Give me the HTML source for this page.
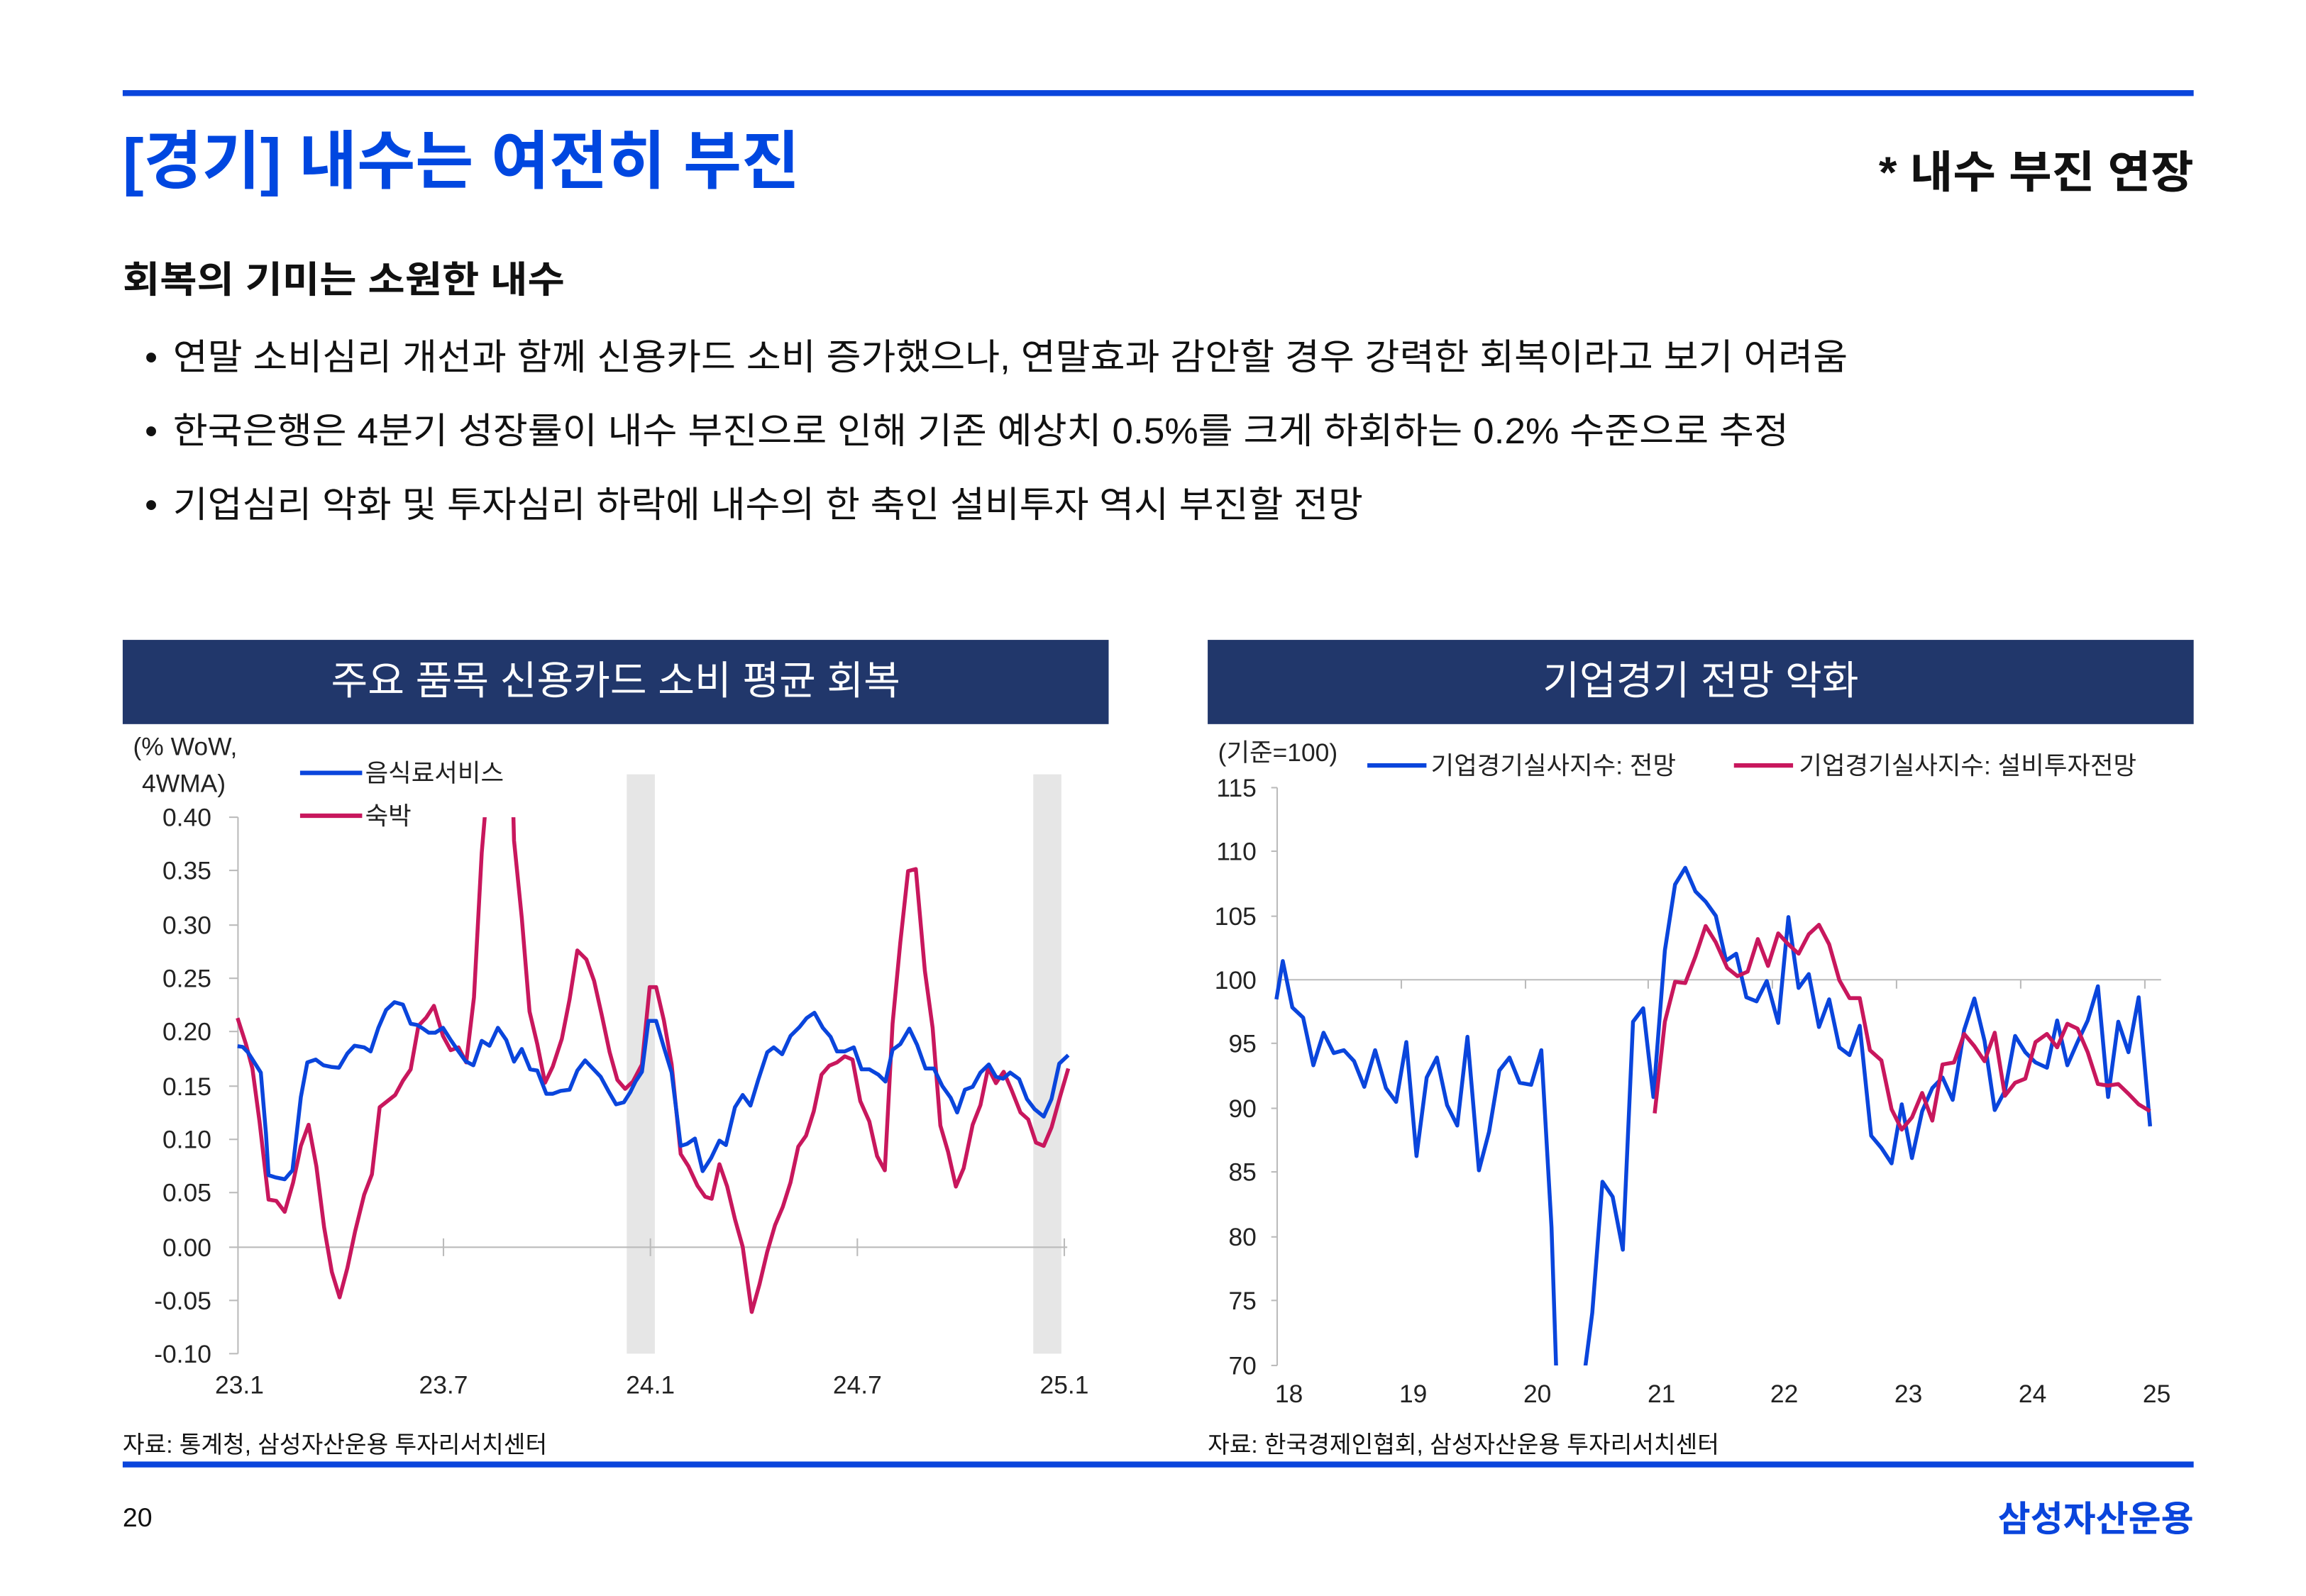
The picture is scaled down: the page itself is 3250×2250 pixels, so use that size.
<!DOCTYPE html>
<html><head><meta charset="utf-8"><style>
html,body{margin:0;padding:0;background:#fff;}
svg{display:block;}
text{font-family:"Liberation Sans","Noto Sans CJK KR",sans-serif;}
</style></head><body>
<svg width="3250" height="2250" viewBox="0 0 1560 1080" xmlns="http://www.w3.org/2000/svg">
<rect width="1560" height="1080" fill="#fff"/>
<rect x="83" y="61" width="1401" height="4" fill="#0a45dc"/>
<text x="83" y="124" font-size="43" font-weight="bold" fill="#0047e0" textLength="458" lengthAdjust="spacingAndGlyphs">[경기] 내수는 여전히 부진</text>
<text x="1271" y="127" font-size="30" font-weight="bold" fill="#111" textLength="213" lengthAdjust="spacingAndGlyphs">* 내수 부진 연장</text>
<text x="83" y="198" font-size="25" font-weight="bold" fill="#111" textLength="299" lengthAdjust="spacingAndGlyphs">회복의 기미는 소원한 내수</text>
<g font-size="24.5" fill="#111">
<text x="98" y="250">•</text><text x="117" y="250" textLength="1133" lengthAdjust="spacingAndGlyphs">연말 소비심리 개선과 함께 신용카드 소비 증가했으나, 연말효과 감안할 경우 강력한 회복이라고 보기 어려움</text>
<text x="98" y="300">•</text><text x="117" y="300" textLength="1093" lengthAdjust="spacingAndGlyphs">한국은행은 4분기 성장률이 내수 부진으로 인해 기존 예상치 0.5%를 크게 하회하는 0.2% 수준으로 추정</text>
<text x="98" y="350">•</text><text x="117" y="350" textLength="805" lengthAdjust="spacingAndGlyphs">기업심리 악화 및 투자심리 하락에 내수의 한 축인 설비투자 역시 부진할 전망</text>
</g>
<rect x="83" y="433" width="667" height="57" fill="#21376b"/>
<text x="416.5" y="470" font-size="27" fill="#fff" text-anchor="middle">주요 품목 신용카드 소비 평균 회복</text>
<rect x="817" y="433" width="667" height="57" fill="#21376b"/>
<text x="1150.5" y="470" font-size="27" fill="#fff" text-anchor="middle">기업경기 전망 악화</text>

<!-- LEFT CHART -->
<rect x="424" y="524" width="19" height="392" fill="#e6e6e6"/>
<rect x="699" y="524" width="19" height="392" fill="#e6e6e6"/>
<line x1="161" y1="553" x2="161" y2="916" stroke="#bbb" stroke-width="1"/>
<line x1="155" y1="844" x2="722" y2="844" stroke="#bbb" stroke-width="1"/>
<g stroke="#bbb" stroke-width="1">
<line x1="155" y1="553" x2="161" y2="553"/><line x1="155" y1="589" x2="161" y2="589"/><line x1="155" y1="626" x2="161" y2="626"/><line x1="155" y1="662" x2="161" y2="662"/><line x1="155" y1="698" x2="161" y2="698"/><line x1="155" y1="735" x2="161" y2="735"/><line x1="155" y1="771" x2="161" y2="771"/><line x1="155" y1="807" x2="161" y2="807"/><line x1="155" y1="880" x2="161" y2="880"/><line x1="155" y1="916" x2="161" y2="916"/>
<line x1="300" y1="838" x2="300" y2="850"/><line x1="440" y1="838" x2="440" y2="850"/><line x1="580" y1="838" x2="580" y2="850"/><line x1="720" y1="838" x2="720" y2="850"/>
</g>
<g font-size="17" fill="#222" text-anchor="end">
<text x="143" y="559">0.40</text><text x="143" y="595">0.35</text><text x="143" y="632">0.30</text><text x="143" y="668">0.25</text><text x="143" y="704">0.20</text><text x="143" y="741">0.15</text><text x="143" y="777">0.10</text><text x="143" y="813">0.05</text><text x="143" y="850">0.00</text><text x="143" y="886">-0.05</text><text x="143" y="922">-0.10</text>
</g>
<g font-size="17" fill="#222" text-anchor="middle">
<text x="162" y="943">23.1</text><text x="300" y="943">23.7</text><text x="440" y="943">24.1</text><text x="580" y="943">24.7</text><text x="720" y="943">25.1</text>
</g>
<text x="90" y="511" font-size="17" fill="#222">(% WoW,</text>
<text x="96" y="536" font-size="17" fill="#222">4WMA)</text>
<line x1="203" y1="523" x2="245" y2="523" stroke="#0a45dc" stroke-width="3"/>
<text x="247" y="529" font-size="17" fill="#222">음식료서비스</text>
<line x1="203" y1="552" x2="245" y2="552" stroke="#c8175d" stroke-width="3"/>
<text x="247" y="558" font-size="17" fill="#222">숙박</text>
<defs>
<clipPath id="cl"><rect x="150" y="553" width="580" height="370"/></clipPath>
<clipPath id="cr"><rect x="860" y="534" width="610" height="390"/></clipPath>
</defs>
<g clip-path="url(#cl)">
<g transform="translate(76.8,494.4) scale(0.437,0.2755)" fill="none" stroke-linejoin="round">
<polyline vector-effect="non-scaling-stroke" stroke="#c8175d" stroke-width="5.5" points="192,706 205,770 215,830 226,960 240,1152 252,1155 265,1182 278,1110 290,1020 302,968 314,1070 326,1220 338,1330 350,1392 362,1320 374,1230 388,1140 400,1090 412,925 424,910 436,895 448,860 460,832 472,725 484,705 496,676 510,750 522,785 534,778 546,815 558,655 570,300 578,150 618,150 620,270 632,460 644,690 656,770 668,865 680,825 694,757 706,660 718,540 732,562 744,615 756,700 768,790 780,858 792,880 804,862 818,820 830,630 840,630 852,712 864,820 878,1040 890,1070 904,1118 916,1145 926,1150 938,1065 950,1120 962,1200 974,1268 988,1428 1000,1360 1012,1280 1024,1215 1036,1170 1048,1110 1060,1022 1072,995 1084,935 1096,845 1108,823 1120,815 1132,800 1144,808 1156,910 1170,960 1182,1045 1194,1080 1206,720 1218,520 1230,345 1242,340 1256,590 1268,730 1280,970 1292,1035 1304,1120 1316,1075 1330,968 1342,920 1354,828 1366,866 1378,838 1390,882 1404,938 1416,955 1428,1012 1440,1020 1452,975 1466,895 1478,830"/>
<polyline vector-effect="non-scaling-stroke" stroke="#0a45dc" stroke-width="5.5" points="192,775 200,777 208,790 216,810 228,840 236,990 240,1092 250,1097 265,1102 277,1080 290,900 300,815 313,808 325,822 337,826 349,828 362,793 373,774 388,778 398,788 410,730 422,686 435,667 448,673 460,720 470,723 480,733 488,742 498,742 510,730 522,760 532,783 545,812 557,822 570,762 582,774 595,730 608,760 620,813 632,782 645,832 656,835 670,892 680,892 692,885 706,882 718,835 730,810 742,830 754,850 766,885 778,918 790,913 800,888 808,862 818,838 828,713 840,713 852,778 864,840 878,1020 888,1015 900,1002 912,1082 925,1050 938,1007 948,1018 962,925 974,895 986,921 998,858 1012,790 1022,778 1035,795 1048,750 1062,728 1073,706 1085,693 1098,730 1110,752 1120,788 1132,788 1146,778 1158,832 1170,832 1184,845 1195,862 1206,784 1218,770 1232,732 1244,772 1257,830 1270,830 1283,873 1296,902 1306,938 1318,882 1330,875 1342,840 1355,820 1366,850 1377,855 1388,840 1402,856 1414,905 1426,930 1440,948 1452,905 1464,818 1478,797"/>
</g>
</g>

<!-- RIGHT CHART -->
<line x1="864" y1="533" x2="864" y2="924" stroke="#bbb" stroke-width="1"/>
<line x1="864" y1="663" x2="1462" y2="663" stroke="#bbb" stroke-width="1"/>
<g stroke="#bbb" stroke-width="1">
<line x1="860" y1="533" x2="864" y2="533"/><line x1="860" y1="576" x2="864" y2="576"/><line x1="860" y1="620" x2="864" y2="620"/><line x1="860" y1="706" x2="864" y2="706"/><line x1="860" y1="750" x2="864" y2="750"/><line x1="860" y1="793" x2="864" y2="793"/><line x1="860" y1="837" x2="864" y2="837"/><line x1="860" y1="880" x2="864" y2="880"/><line x1="860" y1="924" x2="864" y2="924"/>
<line x1="948" y1="663" x2="948" y2="669"/><line x1="1032" y1="663" x2="1032" y2="669"/><line x1="1115" y1="663" x2="1115" y2="669"/><line x1="1199" y1="663" x2="1199" y2="669"/><line x1="1283" y1="663" x2="1283" y2="669"/><line x1="1367" y1="663" x2="1367" y2="669"/><line x1="1451" y1="663" x2="1451" y2="669"/>
</g>
<g font-size="17" fill="#222" text-anchor="end">
<text x="850" y="539">115</text><text x="850" y="582">110</text><text x="850" y="626">105</text><text x="850" y="669">100</text><text x="850" y="712">95</text><text x="850" y="756">90</text><text x="850" y="799">85</text><text x="850" y="843">80</text><text x="850" y="886">75</text><text x="850" y="930">70</text>
</g>
<g font-size="17" fill="#222" text-anchor="middle">
<text x="872" y="949">18</text><text x="956" y="949">19</text><text x="1040" y="949">20</text><text x="1124" y="949">21</text><text x="1207" y="949">22</text><text x="1291" y="949">23</text><text x="1375" y="949">24</text><text x="1459" y="949">25</text>
</g>
<text x="824" y="515" font-size="17" fill="#222">(기준=100)</text>
<line x1="925" y1="518" x2="965" y2="518" stroke="#0a45dc" stroke-width="3"/>
<text x="968" y="524" font-size="17" fill="#222">기업경기실사지수: 전망</text>
<line x1="1173" y1="518" x2="1213" y2="518" stroke="#c8175d" stroke-width="3"/>
<text x="1217" y="524" font-size="17" fill="#222">기업경기실사지수: 설비투자전망</text>
<g clip-path="url(#cr)">
<g transform="translate(816.1,494.4) scale(0.4308,0.2755)" fill="none" stroke-linejoin="round">
<polyline vector-effect="non-scaling-stroke" stroke="#0a45dc" stroke-width="5.5" points="110,660 120,566 135,680 152,705 168,822 184,742 200,792 216,785 232,812 248,875 265,785 282,878 298,912 314,765 330,1045 346,852 362,803 378,920 394,970 410,752 428,1080 444,985 460,835 476,803 492,865 510,870 526,785 542,1220 550,1600 592,1600 606,1430 622,1108 638,1145 654,1275 670,715 686,682 702,900 720,540 736,378 752,337 768,395 784,420 800,455 816,565 832,548 848,655 864,665 880,615 898,718 914,458 930,632 946,598 962,728 978,660 994,778 1010,797 1026,725 1044,995 1060,1025 1076,1063 1092,918 1108,1050 1124,935 1140,878 1156,852 1172,907 1190,735 1206,658 1222,762 1238,932 1254,885 1270,750 1286,790 1302,815 1320,828 1336,712 1352,822 1368,765 1384,712 1400,628 1416,900 1432,715 1448,790 1464,655 1482,972"/>
<polyline vector-effect="non-scaling-stroke" stroke="#c8175d" stroke-width="5.5" points="704,940 720,715 736,617 752,620 768,555 784,480 800,520 818,583 834,603 850,592 866,512 882,578 898,498 914,525 930,548 946,500 962,477 978,525 994,613 1010,657 1026,657 1042,785 1060,810 1076,930 1092,980 1108,950 1124,890 1140,958 1156,820 1174,815 1190,745 1206,775 1222,812 1238,742 1254,897 1270,865 1286,855 1302,765 1320,745 1336,778 1352,720 1368,732 1384,790 1400,868 1416,872 1432,868 1448,892 1464,918 1482,935"/>
</g>
</g>

<text x="83" y="983" font-size="16" fill="#111">자료: 통계청, 삼성자산운용 투자리서치센터</text>
<text x="817" y="983" font-size="16" fill="#111">자료: 한국경제인협회, 삼성자산운용 투자리서치센터</text>
<rect x="83" y="989" width="1401" height="4" fill="#0a45dc"/>
<text x="83" y="1033" font-size="18" fill="#111">20</text>
<text x="1484" y="1036" font-size="24" font-weight="bold" fill="#0a45dc" text-anchor="end">삼성자산운용</text>
</svg>
</body></html>
